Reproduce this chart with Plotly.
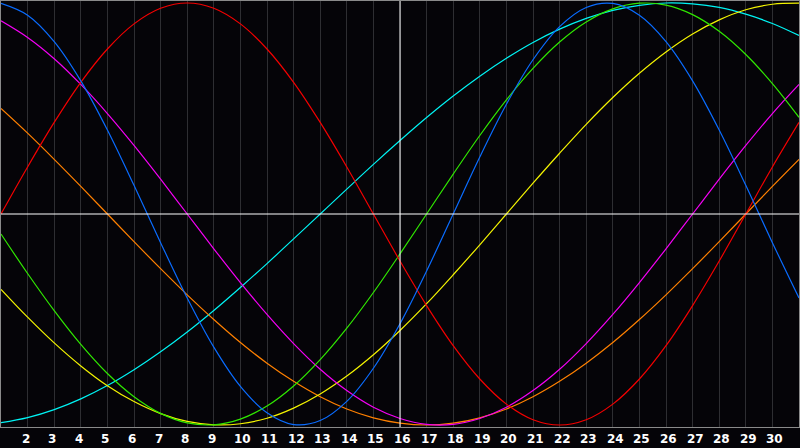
import plotly.graph_objects as go

# Day of month (x) and cycle values (-1..1)
days = list(range(1, 32))
tick_days = list(range(2, 31))

physical = [0.998, 0.942, 0.817, 0.631, 0.398, 0.136, -0.136, -0.398, -0.631, -0.817,
            -0.942, -0.998, -0.979, -0.888, -0.731, -0.520, -0.270, 0.0, 0.270, 0.520,
            0.731, 0.888, 0.979, 0.998, 0.942, 0.817, 0.631, 0.398, 0.136, -0.136, -0.398]
emotional = [0.0, 0.223, 0.434, 0.624, 0.782, 0.901, 0.975, 1.0, 0.975, 0.901,
             0.782, 0.624, 0.434, 0.223, 0.0, -0.223, -0.434, -0.624, -0.782, -0.901,
             -0.975, -1.0, -0.975, -0.901, -0.782, -0.624, -0.434, -0.223, 0.0, 0.223, 0.434]
intellectual = [-0.095, -0.282, -0.458, -0.618, -0.756, -0.866, -0.945, -0.990, -0.999, -0.972,
                -0.910, -0.815, -0.690, -0.541, -0.372, -0.189, 0.0, 0.189, 0.372, 0.541,
                0.690, 0.815, 0.910, 0.972, 0.999, 0.990, 0.945, 0.866, 0.756, 0.618, 0.458]
intuitive = [0.916, 0.837, 0.736, 0.614, 0.476, 0.325, 0.165, 0.0, -0.165, -0.325,
             -0.476, -0.614, -0.736, -0.837, -0.916, -0.969, -0.997, -0.997, -0.969, -0.916,
             -0.837, -0.736, -0.614, -0.476, -0.325, -0.165, 0.0, 0.165, 0.325, 0.476, 0.614]
aesthetic = [-0.357, -0.489, -0.611, -0.720, -0.814, -0.889, -0.946, -0.983, -0.999, -0.994,
             -0.968, -0.920, -0.853, -0.768, -0.667, -0.552, -0.425, -0.288, -0.146, 0.0,
             0.146, 0.288, 0.425, 0.552, 0.667, 0.768, 0.853, 0.920, 0.968, 0.994, 0.999]
awareness = [0.5, 0.383, 0.259, 0.131, 0.0, -0.131, -0.259, -0.383, -0.5, -0.609,
             -0.707, -0.793, -0.866, -0.924, -0.966, -0.991, -1.0, -0.991, -0.966, -0.924,
             -0.866, -0.793, -0.707, -0.609, -0.5, -0.383, -0.259, -0.131, 0.0, 0.131, 0.259]
spiritual = [-0.989, -0.965, -0.927, -0.876, -0.813, -0.738, -0.653, -0.559, -0.457, -0.348,
             -0.235, -0.118, 0.0, 0.118, 0.235, 0.348, 0.457, 0.559, 0.653, 0.738,
             0.813, 0.876, 0.927, 0.965, 0.989, 1.0, 0.996, 0.979, 0.947, 0.903, 0.846]

series = [
    ("Spiritual", spiritual, "#00f4f4"),
    ("Awareness", awareness, "#ff8000"),
    ("Aesthetic", aesthetic, "#f4f400"),
    ("Intuitive", intuitive, "#f400f4"),
    ("Intellectual", intellectual, "#30e800"),
    ("Emotional", emotional, "#f40000"),
    ("Physical", physical, "#0a6cff"),
]

fig = go.Figure()
for name, vals, col in series:
    fig.add_trace(go.Scatter(x=days, y=vals, mode="lines", name=name,
                             line=dict(color=col, width=1.2, shape="spline", smoothing=1.0),
                             hoverinfo="skip"))

bg = "#050408"
fig.update_layout(
    width=800, height=448,
    margin=dict(l=1, r=1, t=1, b=21),
    paper_bgcolor=bg, plot_bgcolor=bg,
    showlegend=False,
    xaxis=dict(range=[1, 31], tickvals=tick_days, showticklabels=False,
               showgrid=True, gridcolor="#2e2e32", gridwidth=1, zeroline=False,
               showline=True, linecolor="#8a8a8a", linewidth=1, mirror=True,
               ticks="", fixedrange=True),
    yaxis=dict(range=[-1.0095, 1.0095], showgrid=False, zeroline=False,
               showticklabels=False, showline=True, linecolor="#8a8a8a",
               linewidth=1, mirror=True, ticks="", fixedrange=True),
)

# white cross-hair lines: zero line and mid-month line
fig.add_shape(type="line", xref="paper", yref="y", x0=0, x1=1, y0=0, y1=0,
              line=dict(color="#ffffff", width=1), layer="above")
fig.add_shape(type="line", xref="x", yref="paper", x0=16, x1=16, y0=0, y1=1,
              line=dict(color="#ffffff", width=1), layer="above")

for d in tick_days:
    fig.add_annotation(x=d, y=0, xref="x", yref="paper", text=str(d),
                       showarrow=False, xanchor="left", yanchor="top",
                       xshift=-8, yshift=-3,
                       font=dict(family="DejaVu Sans", size=12, color="#ffffff",
                                 weight="bold"))

fig.write_html("out.html", config={"displayModeBar": False},
               post_script="document.body.style.margin='0';document.body.style.background='#050408';")
